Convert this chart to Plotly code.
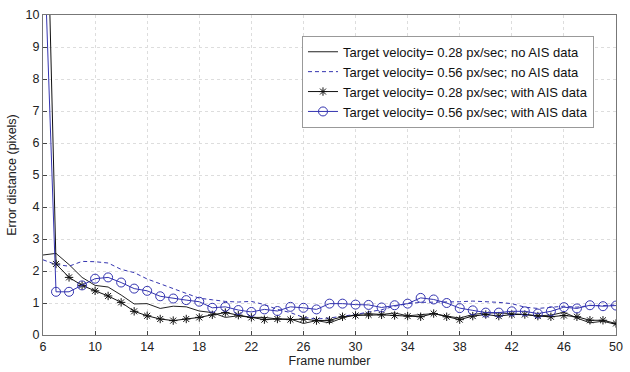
import plotly.graph_objects as go

frames = list(range(6, 51))

v028_no_ais = [2.5, 2.55, 2.2, 1.8, 1.55, 1.5, 1.25, 0.97, 0.98, 0.83, 0.9, 0.88, 0.75, 0.7, 0.55, 0.6,
               0.55, 0.55, 0.5, 0.5, 0.36, 0.45, 0.38, 0.53, 0.64, 0.67, 0.64, 0.69, 0.6, 0.64, 0.67,
               0.59, 0.53, 0.64, 0.69, 0.69, 0.67, 0.64, 0.6, 0.62, 0.71, 0.53, 0.38, 0.43, 0.33]
v056_no_ais = [2.35, 2.2, 2.15, 2.3, 2.29, 2.25, 2.05, 1.95, 1.75, 1.6, 1.45, 1.3, 1.15, 1.1, 1.05, 1.03,
               1.05, 0.95, 0.8, 0.7, 0.55, 0.5, 0.53, 0.59, 0.64, 0.72, 0.79, 0.9, 0.98, 1.02, 1.02,
               1.04, 1.04, 1.06, 1.05, 1.02, 0.98, 0.87, 0.83, 0.86, 0.9, 0.87, 0.92, 0.92, 0.94]
v028_ais = [18.8, 2.22, 1.8, 1.55, 1.38, 1.22, 1.02, 0.74, 0.6, 0.5, 0.45, 0.5, 0.55, 0.63, 0.7, 0.62,
            0.55, 0.48, 0.5, 0.48, 0.5, 0.45, 0.46, 0.57, 0.61, 0.63, 0.63, 0.61, 0.59, 0.57, 0.67,
            0.57, 0.48, 0.59, 0.64, 0.59, 0.64, 0.64, 0.59, 0.57, 0.61, 0.57, 0.46, 0.46, 0.36]
v056_ais = [13.2, 1.35, 1.35, 1.55, 1.76, 1.8, 1.64, 1.45, 1.38, 1.21, 1.14, 1.09, 1.04, 0.85, 0.88, 0.78,
            0.72, 0.8, 0.75, 0.88, 0.85, 0.8, 0.98, 0.98, 0.95, 0.94, 0.86, 0.93, 0.98, 1.16, 1.11,
            1.0, 0.84, 0.77, 0.7, 0.7, 0.74, 0.74, 0.67, 0.74, 0.87, 0.83, 0.93, 0.9, 0.92]

names = ["Target velocity= 0.28 px/sec; no AIS data",
         "Target velocity= 0.56 px/sec; no AIS data",
         "Target velocity= 0.28 px/sec; with AIS data",
         "Target velocity= 0.56 px/sec; with AIS data"]

x_ticks = list(range(6, 51, 4))
y_ticks = list(range(0, 11))

BLUE = "#3434b0"
fig = go.Figure()
fig.add_trace(go.Scatter(x=frames, y=v028_no_ais, name=names[0], mode="lines",
                         line=dict(color="#222222", width=1)))
fig.add_trace(go.Scatter(x=frames, y=v056_no_ais, name=names[1], mode="lines",
                         line=dict(color=BLUE, width=1, dash="4px,3px")))
fig.add_trace(go.Scatter(x=frames, y=v028_ais, name=names[2], mode="lines+markers",
                         line=dict(color="#111111", width=1),
                         marker=dict(symbol="asterisk-open", size=7, color="#111111",
                                     line=dict(color="#111111", width=1))))
fig.add_trace(go.Scatter(x=frames, y=v056_ais, name=names[3], mode="lines+markers",
                         line=dict(color=BLUE, width=1),
                         marker=dict(symbol="circle-open", size=9, color=BLUE,
                                     line=dict(color=BLUE, width=1))))

fig.update_layout(
    width=630, height=372,
    margin=dict(l=43, r=7, t=15, b=33),
    paper_bgcolor="white", plot_bgcolor="white",
    font=dict(family="Liberation Sans, Arial, sans-serif", size=12, color="#222"),
    showlegend=True,
    legend=dict(x=0.452, y=0.935, xanchor="left", yanchor="top",
                bgcolor="white", bordercolor="#999", borderwidth=1,
                font=dict(size=13, color="#111"), tracegroupgap=0,
                itemwidth=30),
)
fig.update_xaxes(range=[6, 50], tickvals=x_ticks, ticks="inside", ticklen=4,
                 showline=True, mirror=True, linecolor="#777", linewidth=1,
                 showgrid=True, gridcolor="#dddddd", griddash="dot", zeroline=False,
                 title=dict(text="Frame number", standoff=2, font=dict(size=12.5)),
                 tickfont=dict(size=12.5))
fig.update_yaxes(range=[0, 10], tickvals=y_ticks, ticks="inside", ticklen=4,
                 showline=True, mirror=True, linecolor="#777", linewidth=1,
                 showgrid=True, gridcolor="#dddddd", griddash="dot", zeroline=False,
                 title=dict(text="Error distance (pixels)", standoff=6, font=dict(size=12.5)),
                 tickfont=dict(size=12.5))

fig.write_html("out.html")
